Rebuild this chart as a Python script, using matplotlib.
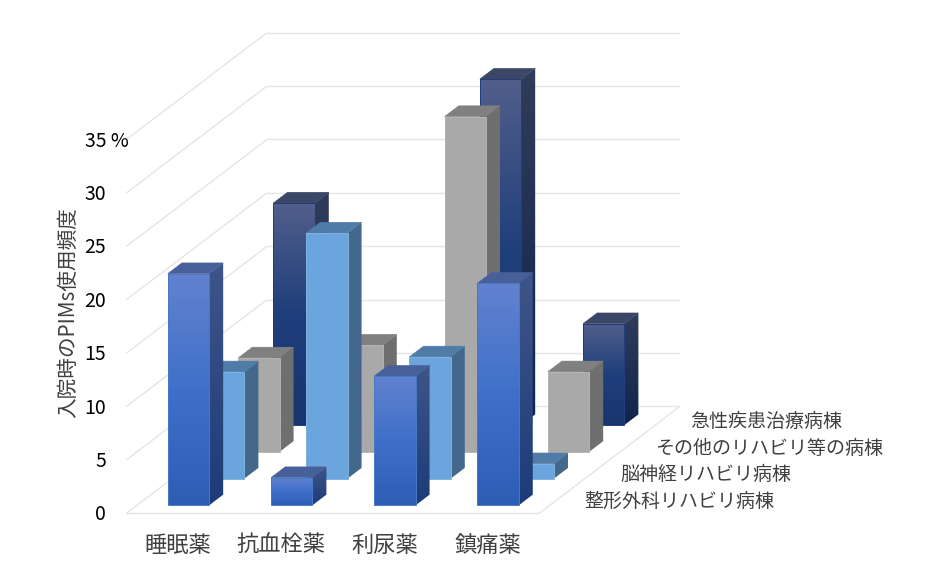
import numpy as np
import matplotlib
matplotlib.use("Agg")
import matplotlib.pyplot as plt
from matplotlib.patches import Polygon
from matplotlib.colors import LinearSegmentedColormap

plt.rcParams['font.family'] = ['Noto Sans CJK JP', 'DejaVu Sans']

categories = ['睡眠薬', '抗血栓薬', '利尿薬', '鎮痛薬']
series_names = ['整形外科リハビリ病棟', '脳神経リハビリ病棟', 'その他のリハビリ等の病棟', '急性疾患治療病棟']
orthopedic = [21.7, 2.6, 12.1, 20.8]
neuro = [10.0, 23.0, 11.4, 1.4]
other_rehab = [8.8, 10.0, 31.4, 7.5]
acute = [20.8, 0.0, 32.4, 9.5]
y_ticks = [0, 5, 10, 15, 20, 25, 30, 35]
y_title = '入院時のPIMs使用頻度'

series_values = [orthopedic, neuro, other_rehab, acute]
styles = [
    dict(front=['#6282cf', '#3f70c9', '#2e5db4'], side=['#3f5589', '#1d3c78'], top='#48609a', edge='#4a78c8'),
    dict(front=['#6ba5dd', '#6ba5dd', '#6ba5dd'], side=['#44688c', '#44688c'], top='#4f7ba7', edge='#7fb2e2'),
    dict(front=['#a9a9a9', '#a9a9a9', '#a9a9a9'], side=['#6f6f6f', '#6f6f6f'], top='#808080', edge='#b5b5b5'),
    dict(front=['#525f8b', '#1f3e7c', '#17366f'], side=['#303c5b', '#10244c'], top='#3c4768', edge='#1f3e7c'),
]

# oblique projection: category position, depth position, value -> canvas
X0, Y0 = 126.3, 513.4
CAT_W, DEPTH_X, DEPTH_Y, UNIT = 103.2, 35.2, 26.75, 10.68
BAR = 0.4
GRID = '#e4e5ea'
TEXT = '#404040'


def proj(c, z, v):
    return X0 + CAT_W * c + DEPTH_X * z, Y0 - DEPTH_Y * z - UNIT * v


fig = plt.figure(figsize=(9.33, 5.84), dpi=100)
ax = fig.add_axes([0, 0, 1, 1])
ax.axis('off')
W, H = 933, 584
nc, ns = len(categories), len(series_names)


def line(p, q):
    ax.plot([p[0], q[0]], [p[1], q[1]], color=GRID, lw=1.0, zorder=1, solid_capstyle='butt')


for t in y_ticks:
    line(proj(0, 0, t), proj(0, ns, t))
    line(proj(0, ns, t), proj(nc, ns, t))
line(proj(0, 0, 0), proj(nc, 0, 0))
line(proj(nc, 0, 0), proj(nc, ns, 0))


def gradient_face(pts, colors, zo, edge=None):
    xs = [p[0] for p in pts]
    ys = [p[1] for p in pts]
    cmap = LinearSegmentedColormap.from_list('g', colors)
    grad = np.linspace(0, 1, 256).reshape(-1, 1)
    im = ax.imshow(grad, cmap=cmap, aspect='auto', zorder=zo, interpolation='bilinear',
                   extent=[min(xs), max(xs), max(ys), min(ys)], vmin=0, vmax=1)
    clip = Polygon(pts, closed=True, transform=ax.transData)
    im.set_clip_path(clip)
    if edge:
        ax.add_patch(Polygon(pts, closed=True, fill=False, ec=edge, lw=0.7, zorder=zo + 0.1))


zo = 2
for s in range(ns - 1, -1, -1):
    st = styles[s]
    for c in range(nc):
        v = series_values[s][c]
        if v <= 0:
            continue
        c0, c1 = c + 0.3, c + 0.3 + BAR
        z0, z1 = s + 0.3, s + 0.3 + BAR
        front = [proj(c0, z0, 0), proj(c1, z0, 0), proj(c1, z0, v), proj(c0, z0, v)]
        side = [proj(c1, z0, 0), proj(c1, z1, 0), proj(c1, z1, v), proj(c1, z0, v)]
        top = [proj(c0, z0, v), proj(c1, z0, v), proj(c1, z1, v), proj(c0, z1, v)]
        gradient_face(side, st['side'], zo)
        ax.add_patch(Polygon(top, closed=True, fc=st['top'], ec=st['top'], lw=0.4, zorder=zo + 1))
        gradient_face(front, st['front'], zo + 2, edge=st['edge'])
        zo += 3

# value axis labels
for t in y_ticks:
    x, y = proj(0, 0, t)
    if t == y_ticks[-1]:
        ax.text(x - 41.5, y + 1.5, f'{t} %', ha='left', va='center', fontsize=14, color='black', zorder=zo)
    else:
        ax.text(x - 20, y + 1.5, f'{t}', ha='right', va='center', fontsize=14, color='black', zorder=zo)

ax.text(68, 313, y_title, rotation=90, ha='center', va='center', fontsize=14.9, color=TEXT, zorder=zo)

# category labels
for c, name in enumerate(categories):
    x, y = proj(c + 0.5, 0, 0)
    ax.text(x, y + 32, name, ha='center', va='center', fontsize=16, color=TEXT, zorder=zo)

# series labels
for s, name in enumerate(series_names):
    x, y = proj(nc, s + 0.5, 0)
    ax.text(x + 28, y + 1.5, name, ha='left', va='center', fontsize=13.7, color=TEXT, zorder=zo)

ax.set_xlim(0, W)
ax.set_ylim(H, 0)
fig.savefig('out.png', dpi=100, facecolor='white')
